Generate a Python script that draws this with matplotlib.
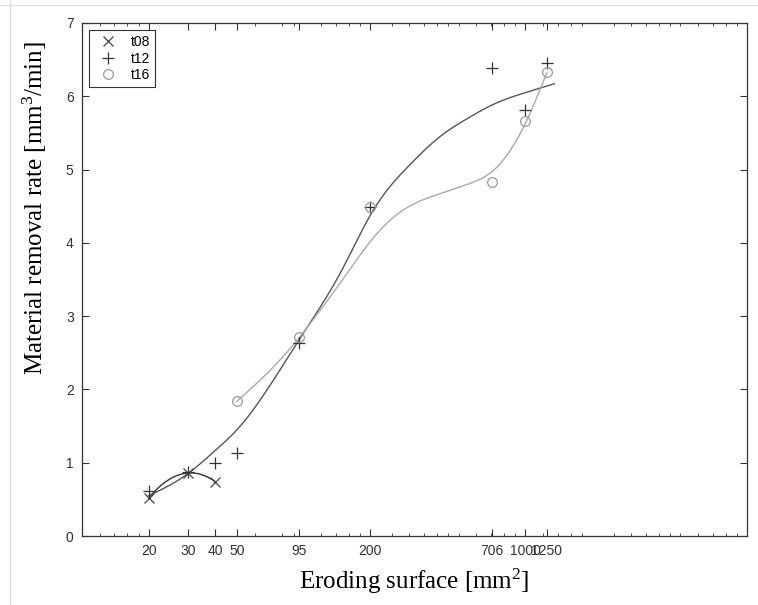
import numpy as np
import matplotlib
matplotlib.use("Agg")
import matplotlib.pyplot as plt
from matplotlib.lines import Line2D
from matplotlib.ticker import FixedLocator, NullFormatter

plt.rcParams["mathtext.fontset"] = "custom"
plt.rcParams["mathtext.rm"] = "Liberation Serif"

# Measured material removal rates for three tool electrodes
x_t08 = [20, 30, 40]
y_t08 = [0.52, 0.86, 0.74]

x_t12 = [20, 30, 40, 50, 95, 200, 706, 1000, 1250]
y_t12 = [0.61, 0.87, 0.99, 1.13, 2.63, 4.49, 6.39, 5.81, 6.46]

x_t16 = [50, 95, 200, 706, 1000, 1250]
y_t16 = [1.84, 2.71, 4.49, 4.83, 5.66, 6.33]

# Smoothed trend curves (knots of the fitted curves)
curve_t12_x = [20, 30, 40, 50, 95, 150, 200, 250, 300, 412, 550, 706, 1000, 1350]
curve_t12_y = [0.55, 0.85, 1.17, 1.45, 2.67, 3.65, 4.38, 4.80, 5.06, 5.45, 5.70, 5.88, 6.05, 6.17]

curve_t16_x = [50, 70, 95, 120, 150, 200, 250, 300, 412, 550, 706, 850, 1000, 1250]
curve_t16_y = [1.84, 2.25, 2.70, 3.10, 3.50, 4.02, 4.33, 4.50, 4.67, 4.80, 4.97, 5.25, 5.63, 6.32]

xtick_vals = [20, 30, 40, 50, 95, 200, 706, 1000, 1250]
xtick_labels = ["20", "30", "40", "50", "95", "200", "706", "1000", "1250"]


def natural_spline(xk, yk, xq):
    """Natural cubic spline through (xk, yk), evaluated at xq."""
    xk = np.asarray(xk, float)
    yk = np.asarray(yk, float)
    n = len(xk)
    h = np.diff(xk)
    A = np.zeros((n, n))
    b = np.zeros(n)
    A[0, 0] = A[-1, -1] = 1.0
    for i in range(1, n - 1):
        A[i, i - 1] = h[i - 1]
        A[i, i] = 2 * (h[i - 1] + h[i])
        A[i, i + 1] = h[i]
        b[i] = 6 * ((yk[i + 1] - yk[i]) / h[i] - (yk[i] - yk[i - 1]) / h[i - 1])
    M = np.linalg.solve(A, b)
    idx = np.clip(np.searchsorted(xk, xq) - 1, 0, n - 2)
    x0, x1 = xk[idx], xk[idx + 1]
    hh = x1 - x0
    t0, t1 = x1 - xq, xq - x0
    return (M[idx] * t0 ** 3 / (6 * hh) + M[idx + 1] * t1 ** 3 / (6 * hh)
            + (yk[idx] / hh - M[idx] * hh / 6) * t0
            + (yk[idx + 1] / hh - M[idx + 1] * hh / 6) * t1)


def log_curve(xk, yk):
    lk = np.log10(xk)
    lq = np.linspace(lk[0], lk[-1], 400)
    return 10 ** lq, natural_spline(lk, yk, lq)


def quad_trend(xs, ys):
    lx = np.log10(xs)
    coef = np.polyfit(lx, ys, 2)
    lq = np.linspace(lx[0], lx[-1], 200)
    return 10 ** lq, np.polyval(coef, lq)


fig = plt.figure(figsize=(7.58, 6.05), dpi=100)
ax = fig.add_axes([0.1082, 0.114, 0.8773, 0.848])

tick_font = {"family": ["Liberation Sans", "DejaVu Sans"], "size": 10}
label_font = {"family": ["Liberation Serif", "DejaVu Serif"], "size": 18}

# trend curves
xx, yy = quad_trend(x_t08, y_t08)
ax.plot(xx, yy, color="#333333", lw=1.0)
xx, yy = log_curve(curve_t12_x, curve_t12_y)
ax.plot(xx, yy, color="#555555", lw=1.0)
xx, yy = log_curve(curve_t16_x, curve_t16_y)
ax.plot(xx, yy, color="#aaaaaa", lw=1.0)

# measured points
ax.plot(x_t08, y_t08, ls="none", marker="x", ms=7, mew=0.9, color="#444444", label="t08")
ax.plot(x_t12, y_t12, ls="none", marker="+", ms=9, mew=0.9, color="#333333", label="t12")
ax.plot(x_t16, y_t16, ls="none", marker="o", ms=7, mew=0.9, mfc="none", mec="#999999", label="t16")

ax.set_xscale("log")
ax.set_xlim(10, 10000)
ax.set_ylim(0, 7)

ax.xaxis.set_major_locator(FixedLocator(xtick_vals))
ax.set_xticklabels(xtick_labels, fontdict=tick_font)
minor = [12, 14, 16, 18, 60, 80, 90]
for dec in (100, 1000):
    minor += [dec * s for s in (1.2, 1.4, 1.6, 1.8, 2.5, 3, 3.5, 4, 4.5, 5, 6, 7, 8, 9)]
ax.xaxis.set_minor_locator(FixedLocator(minor))
ax.xaxis.set_minor_formatter(NullFormatter())

ax.set_yticks(range(0, 8))
ax.set_yticklabels([str(v) for v in range(0, 8)], fontdict=tick_font)

ax.tick_params(which="both", direction="in", top=True, right=True, colors="#333333")
ax.tick_params(which="major", length=5, width=0.8, pad=6)
ax.tick_params(which="minor", length=2.5, width=0.6)
for sp in ax.spines.values():
    sp.set_color("#333333")
    sp.set_linewidth(0.9)

ax.set_xlabel(r"Eroding surface [mm$\mathregular{^2}$]", fontdict=label_font, labelpad=6)
ax.set_ylabel(r"Material removal rate [mm$\mathregular{^3}$/min]", fontdict=label_font)
ax.yaxis.set_label_coords(-0.05, 0.64)

leg = ax.legend(loc="upper left", prop={"family": "Liberation Sans", "size": 10},
                fancybox=False, framealpha=1, edgecolor="#333333",
                borderaxespad=0.5, handletextpad=0.63, labelspacing=0.2,
                handlelength=2.0, borderpad=0.35)
leg.get_frame().set_linewidth(0.8)

# thin light frame lines along the top and left of the sheet
fig.add_artist(Line2D([0, 1], [0.992, 0.992], transform=fig.transFigure, color="#dddddd", lw=1))
fig.add_artist(Line2D([0.013, 0.013], [0, 1], transform=fig.transFigure, color="#dddddd", lw=1))

fig.savefig("out.png", dpi=100)
